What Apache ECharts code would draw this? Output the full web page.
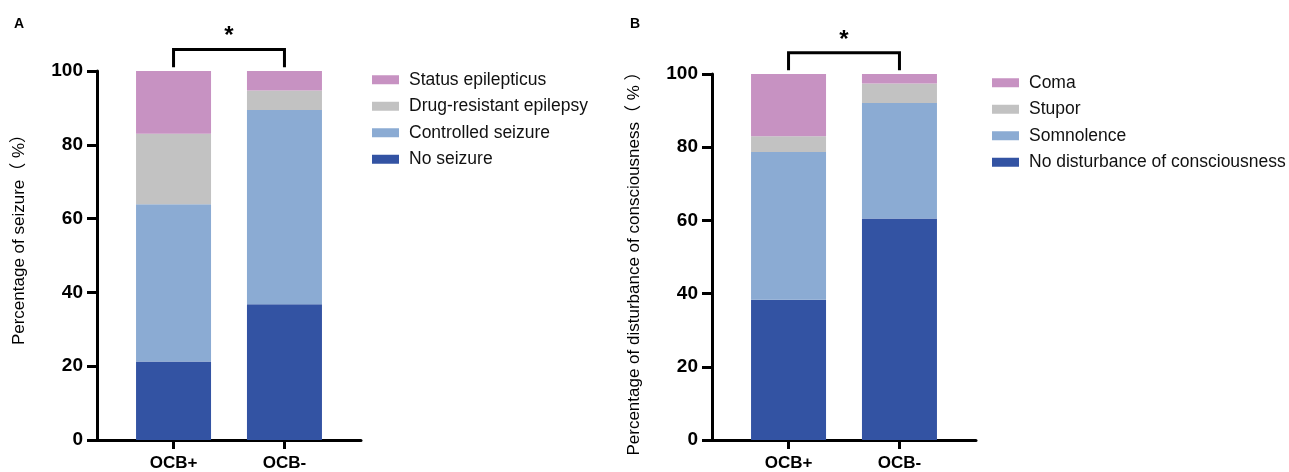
<!DOCTYPE html>
<html lang="en">
<head>
<meta charset="utf-8" />
<title>OCB seizure / consciousness</title>
<script src="https://cdn.jsdelivr.net/npm/echarts@6/dist/echarts.min.js"></script>
<style>
  html, body { margin: 0; padding: 0; background: #FFFFFF; }
  #chart { width: 1289px; height: 472px; }
</style>
</head>
<body>
<div id="chart"></div>
<script>
// groups on the x axis
const groups = ['OCB+', 'OCB-'];

// panel A: seizure outcome (%)
const noSeizure = [21.3, 36.8];
const controlledSeizure = [42.6, 52.6];
const drugResistant = [19.1, 5.3];
const statusEpilepticus = [17.0, 5.3];

// panel B: disturbance of consciousness (%)
const noDisturbance = [38.3, 60.5];
const somnolence = [40.4, 31.6];
const stupor = [4.3, 5.3];
const coma = [17.0, 2.6];

const yTicks = [0, 20, 40, 60, 80, 100];

const FONT = 'Arial, "Liberation Sans", "Noto Sans CJK SC", sans-serif';
const COLORS = {
  dark: '#3353A3',
  light: '#8BABD3',
  gray: '#C2C2C2',
  pink: '#C792C2'
};

const chart = echarts.init(document.getElementById('chart'), null, { renderer: 'canvas' });

function toPoints(values) {
  // column 0 = value (stacked), column 1 = 1-based group position
  return values.map((v, i) => [v, i + 1]);
}

function barSeries(name, values, color, panel) {
  return {
    name: name,
    type: 'bar',
    stack: 'panel' + panel,
    xAxisIndex: panel,
    yAxisIndex: panel,
    barWidth: 75,
    itemStyle: { color: color },
    encode: { x: 1, y: 0 },
    data: toPoints(values)
  };
}

function xAxis(gridIndex) {
  return {
    type: 'value',
    gridIndex: gridIndex,
    min: 0.31,
    max: 2.69,
    splitLine: { show: false },
    axisLine: { lineStyle: { color: '#000', width: 3 } },
    axisTick: { customValues: groups.map((g, i) => i + 1), length: 9, lineStyle: { color: '#000', width: 3 } },
    axisLabel: {
      customValues: groups.map((g, i) => i + 1),
      formatter: v => groups[Math.round(v) - 1] || '',
      color: '#000', fontFamily: FONT, fontWeight: 'bold', fontSize: 17, margin: 15
    }
  };
}

function yAxis(gridIndex, title, namePad) {
  return {
    type: 'value',
    gridIndex: gridIndex,
    min: yTicks[0],
    max: yTicks[yTicks.length - 1],
    interval: 20,
    splitLine: { show: false },
    axisLine: { show: true, lineStyle: { color: '#000', width: 3 } },
    axisTick: { show: true, length: 10, lineStyle: { color: '#000', width: 3 } },
    axisLabel: { color: '#000', fontFamily: FONT, fontWeight: 'bold', fontSize: 19, margin: 14 },
    name: title,
    nameLocation: 'middle',
    nameGap: 69,
    nameTextStyle: { color: '#000', fontFamily: FONT, fontSize: 17, padding: namePad }
  };
}

function legend(left, top, names) {
  return {
    orient: 'vertical',
    left: left,
    top: top,
    data: names,
    icon: 'rect',
    itemWidth: 27,
    itemHeight: 9,
    itemGap: 9,
    selectedMode: false,
    textStyle: { color: '#111', fontFamily: FONT, fontSize: 17.5, padding: [0, 0, 0, 5] }
  };
}

chart.setOption({
  backgroundColor: '#FFFFFF',
  animation: false,
  grid: [
    { left: 97, top: 71, width: 264, height: 372 },
    { left: 712, top: 74, width: 264, height: 369 }
  ],
  xAxis: [xAxis(0), xAxis(1)],
  yAxis: [
    yAxis(0, 'Percentage of seizure（ %）', [0, 0, 0, 40]),
    yAxis(1, 'Percentage of disturbance of consciousness（ % ）', [0, 5, 0, 0])
  ],
  legend: [
    legend(367, 66, ['Status epilepticus', 'Drug-resistant epilepsy', 'Controlled seizure', 'No seizure']),
    legend(987, 69, ['Coma', 'Stupor', 'Somnolence', 'No disturbance of consciousness'])
  ],
  series: [
    barSeries('No seizure', noSeizure, COLORS.dark, 0),
    barSeries('Controlled seizure', controlledSeizure, COLORS.light, 0),
    barSeries('Drug-resistant epilepsy', drugResistant, COLORS.gray, 0),
    barSeries('Status epilepticus', statusEpilepticus, COLORS.pink, 0),
    barSeries('No disturbance of consciousness', noDisturbance, COLORS.dark, 1),
    barSeries('Somnolence', somnolence, COLORS.light, 1),
    barSeries('Stupor', stupor, COLORS.gray, 1),
    barSeries('Coma', coma, COLORS.pink, 1)
  ]
});

// significance brackets and panel letters, placed through the axes
const graphics = [];
[0, 1].forEach(gi => {
  const p = v => chart.convertToPixel({ gridIndex: gi }, v);
  const a = p([1, 101]), b = p([1, 105.8]), c = p([2, 105.8]), d = p([2, 101]);
  graphics.push({
    type: 'polyline',
    shape: { points: [a, b, c, d] },
    style: { stroke: '#000', lineWidth: 3, fill: null }
  });
  const s = p([1.5, 109.3]);
  graphics.push({
    type: 'text',
    x: s[0], y: s[1],
    style: { text: '*', fill: '#000', font: 'bold 24px ' + FONT, textAlign: 'center', textVerticalAlign: 'middle' }
  });
});
graphics.push({ type: 'text', x: 14, y: 17, style: { text: 'A', fill: '#000', font: 'bold 14px ' + FONT } });
graphics.push({ type: 'text', x: 630, y: 17, style: { text: 'B', fill: '#000', font: 'bold 14px ' + FONT } });
chart.setOption({ graphic: graphics });
</script>
</body>
</html>
